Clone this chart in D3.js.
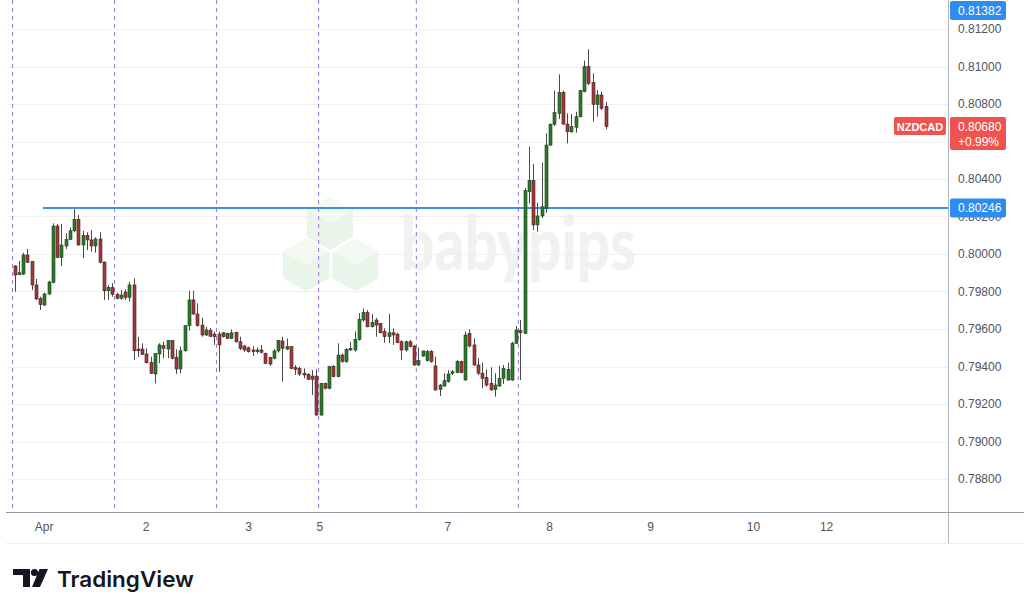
<!DOCTYPE html>
<html><head><meta charset="utf-8">
<script src="https://cdn.jsdelivr.net/npm/d3@7"></script>
<style>body{margin:0;background:#fff}svg{display:block}</style>
</head><body><svg id="c" width="1024" height="613"></svg>
<script>
// ---- data (NZDCAD, 1H candles) ----
const opens = [0.79936,0.79890,0.79893,0.79995,0.79959,0.79835,0.79762,0.79728,0.79787,0.79849,0.80149,0.79982,0.80043,0.80078,0.80124,0.80185,0.80048,0.80098,0.80075,0.80043,0.80080,0.79957,0.79804,0.79822,0.79785,0.79764,0.79797,0.79769,0.79835,0.79493,0.79493,0.79467,0.79422,0.79360,0.79467,0.79511,0.79493,0.79538,0.79449,0.79387,0.79484,0.79618,0.79755,0.79680,0.79621,0.79568,0.79591,0.79573,0.79573,0.79559,0.79577,0.79550,0.79582,0.79532,0.79509,0.79500,0.79488,0.79479,0.79488,0.79470,0.79449,0.79444,0.79483,0.79536,0.79493,0.79506,0.79394,0.79390,0.79364,0.79358,0.79349,0.79349,0.79141,0.79310,0.79284,0.79399,0.79346,0.79461,0.79426,0.79488,0.79488,0.79545,0.79648,0.79687,0.79612,0.79648,0.79630,0.79586,0.79559,0.79580,0.79573,0.79532,0.79488,0.79532,0.79509,0.79408,0.79456,0.79431,0.79479,0.79403,0.79278,0.79296,0.79319,0.79364,0.79367,0.79426,0.79328,0.79577,0.79515,0.79408,0.79364,0.79342,0.79310,0.79278,0.79296,0.79337,0.79328,0.79328,0.79524,0.79591,0.79577,0.80332,0.80391,0.80155,0.80203,0.80244,0.80581,0.80692,0.80750,0.80862,0.80693,0.80652,0.80676,0.80732,0.80866,0.80999,0.80914,0.80798,0.80848,0.80786];
const highs = [0.79941,0.79963,0.80007,0.80027,0.79962,0.79867,0.79772,0.79794,0.79858,0.80164,0.80160,0.80160,0.80110,0.80142,0.80238,0.80208,0.80123,0.80116,0.80128,0.80089,0.80116,0.79960,0.79835,0.79844,0.79794,0.79808,0.79812,0.79852,0.79870,0.79559,0.79524,0.79497,0.79452,0.79470,0.79524,0.79532,0.79541,0.79541,0.79492,0.79506,0.79621,0.79804,0.79804,0.79737,0.79660,0.79612,0.79605,0.79586,0.79586,0.79584,0.79580,0.79598,0.79586,0.79559,0.79515,0.79506,0.79509,0.79502,0.79515,0.79474,0.79452,0.79492,0.79541,0.79559,0.79550,0.79509,0.79408,0.79399,0.79390,0.79364,0.79381,0.79385,0.79312,0.79314,0.79403,0.79408,0.79524,0.79470,0.79497,0.79532,0.79588,0.79685,0.79710,0.79701,0.79680,0.79659,0.79632,0.79604,0.79680,0.79604,0.79580,0.79541,0.79538,0.79541,0.79515,0.79502,0.79484,0.79488,0.79488,0.79452,0.79307,0.79364,0.79381,0.79381,0.79435,0.79431,0.79586,0.79598,0.79550,0.79444,0.79420,0.79385,0.79396,0.79364,0.79403,0.79408,0.79420,0.79532,0.79616,0.79648,0.80352,0.80572,0.80480,0.80274,0.80487,0.80644,0.80697,0.80871,0.80958,0.80871,0.80750,0.80747,0.80759,0.80875,0.81031,0.81092,0.80964,0.80875,0.80866,0.80812];
const lows = [0.79799,0.79888,0.79888,0.79952,0.79808,0.79755,0.79701,0.79723,0.79781,0.79844,0.79977,0.79936,0.80027,0.80075,0.80116,0.80044,0.79977,0.80021,0.80012,0.80007,0.79950,0.79755,0.79755,0.79772,0.79758,0.79755,0.79755,0.79746,0.79435,0.79452,0.79461,0.79417,0.79360,0.79310,0.79417,0.79444,0.79444,0.79438,0.79360,0.79364,0.79479,0.79591,0.79675,0.79612,0.79559,0.79563,0.79559,0.79515,0.79372,0.79554,0.79547,0.79547,0.79527,0.79488,0.79479,0.79474,0.79456,0.79470,0.79470,0.79413,0.79404,0.79438,0.79474,0.79319,0.79488,0.79385,0.79355,0.79349,0.79337,0.79328,0.79248,0.79138,0.79138,0.79278,0.79278,0.79342,0.79342,0.79420,0.79420,0.79483,0.79479,0.79538,0.79639,0.79609,0.79609,0.79559,0.79577,0.79527,0.79524,0.79515,0.79524,0.79435,0.79479,0.79502,0.79403,0.79403,0.79452,0.79426,0.79420,0.79271,0.79243,0.79292,0.79314,0.79355,0.79364,0.79364,0.79324,0.79502,0.79403,0.79355,0.79284,0.79292,0.79271,0.79239,0.79292,0.79307,0.79324,0.79324,0.79520,0.79328,0.79573,0.80270,0.80128,0.80119,0.80192,0.80220,0.80576,0.80683,0.80720,0.80688,0.80590,0.80647,0.80647,0.80729,0.80862,0.80901,0.80706,0.80732,0.80768,0.80665];
const closes = [0.79888,0.79900,0.79995,0.79956,0.79835,0.79760,0.79730,0.79787,0.79851,0.80149,0.79982,0.80048,0.80078,0.80124,0.80185,0.80048,0.80098,0.80075,0.80043,0.80080,0.79956,0.79804,0.79822,0.79785,0.79764,0.79781,0.79769,0.79835,0.79484,0.79484,0.79465,0.79420,0.79364,0.79470,0.79515,0.79497,0.79538,0.79444,0.79387,0.79484,0.79618,0.79755,0.79680,0.79618,0.79568,0.79595,0.79561,0.79559,0.79515,0.79580,0.79550,0.79580,0.79532,0.79497,0.79488,0.79479,0.79479,0.79488,0.79476,0.79417,0.79413,0.79483,0.79538,0.79497,0.79506,0.79390,0.79385,0.79360,0.79355,0.79332,0.79332,0.79141,0.79310,0.79284,0.79399,0.79346,0.79461,0.79426,0.79492,0.79497,0.79545,0.79652,0.79687,0.79612,0.79634,0.79621,0.79580,0.79559,0.79580,0.79568,0.79527,0.79488,0.79532,0.79506,0.79408,0.79431,0.79483,0.79479,0.79426,0.79275,0.79301,0.79324,0.79360,0.79372,0.79426,0.79367,0.79568,0.79509,0.79408,0.79364,0.79337,0.79301,0.79275,0.79301,0.79337,0.79390,0.79385,0.79524,0.79595,0.79580,0.80338,0.80391,0.80155,0.80203,0.80252,0.80581,0.80692,0.80754,0.80862,0.80693,0.80652,0.80679,0.80732,0.80871,0.80999,0.80910,0.80798,0.80848,0.80777,0.80680];
const sessionBreaks = [-0.5, 23.5, 47.5, 71.5, 94.5, 118.5];
const xTickPos = [6.8, 30.8, 54.9, 71.7, 101.8, 125.7, 149.5, 173.7, 190.9];
const xTickLabels = ["Apr", "2", "3", "5", "7", "8", "9", "10", "12"];
const gridTicks = [0.788, 0.790, 0.792, 0.794, 0.796, 0.798, 0.800, 0.802, 0.804, 0.806, 0.808, 0.810, 0.812];
// labels that remain visible (0.80600 sits under the last-price tag)
const yTickLabels = [0.788, 0.790, 0.792, 0.794, 0.796, 0.798, 0.800, 0.802, 0.804, 0.808, 0.810, 0.812];
const hlinePrice = 0.80246;
const lastPrice = 0.80680;
const changeText = "+0.99%";
const topPrice = 0.81382;
const symbol = "NZDCAD";

// ---- layout ----
const W = 1024, plotRight = 948, plotBottom = 512, axisBottom = 543, plotLeft = 6;
const svg = d3.select("#c");
const x = d3.scaleLinear().domain([0, opens.length - 1]).range([14.7, 605.5]);
const y = d3.scaleLinear().domain([0.788, 0.812]).range([479, 29]);
const font = "'Liberation Sans', Arial, sans-serif";

svg.append("rect").attr("width", W).attr("height", 613).attr("fill", "#fff");

// grid
svg.append("g").selectAll("line").data(gridTicks).join("line")
  .attr("x1", plotLeft).attr("x2", plotRight)
  .attr("y1", d => Math.round(y(d)) + 0.5).attr("y2", d => Math.round(y(d)) + 0.5)
  .attr("stroke", "#eef0f4").attr("stroke-width", 1);

// watermark: hex logo
const hexR = 26.5;
function hexPath(cx, cy, r) {
  const pts = d3.range(6).map(k => {
    const a = Math.PI / 180 * (60 * k - 90);
    return [cx + r * Math.cos(a), cy + r * Math.sin(a)];
  });
  return "M" + pts.map(p => p.join(",")).join("L") + "Z";
}
function topFace(cx, cy, r) {
  const w = r * Math.sqrt(3) / 2;
  return `M${cx},${cy - r}L${cx + w},${cy - r / 2}L${cx},${cy}L${cx - w},${cy - r / 2}Z`;
}
const wm = svg.append("g").attr("opacity", 0.85);
[[330, 223.5], [306, 265], [355.5, 265]].forEach(([cx, cy]) => {
  wm.append("path").attr("d", hexPath(cx, cy, hexR)).attr("fill", "#e6f4e6");
  wm.append("path").attr("d", topFace(cx, cy, hexR)).attr("fill", "#eff9ef");
});
wm.append("text").attr("x", 401).attr("y", 270).attr("font-family", "Lato, 'Open Sans', sans-serif")
  .attr("font-weight", 900).attr("font-size", 74).attr("fill", "#efefef")
  .attr("textLength", 235).attr("lengthAdjust", "spacingAndGlyphs").text("babypips");

// session separators
svg.append("g").selectAll("line").data(sessionBreaks).join("line")
  .attr("x1", d => x(d)).attr("x2", d => x(d)).attr("y1", 0).attr("y2", plotBottom)
  .attr("stroke", "#9c6fe8").attr("stroke-width", 1).attr("stroke-dasharray", "4,4");

// horizontal ray
svg.append("line").attr("x1", 43).attr("x2", plotRight)
  .attr("y1", y(hlinePrice)).attr("y2", y(hlinePrice))
  .attr("stroke", "#3d8ee8").attr("stroke-width", 2);

// candles
const idx = d3.range(opens.length);
const cg = svg.append("g");
cg.selectAll("line").data(idx).join("line")
  .attr("x1", i => Math.round(x(i)) + 0.5).attr("x2", i => Math.round(x(i)) + 0.5)
  .attr("y1", i => y(highs[i])).attr("y2", i => y(lows[i]))
  .attr("stroke", "#4a4a4a").attr("stroke-width", 1);
cg.selectAll("rect").data(idx).join("rect")
  .attr("x", i => Math.round(x(i)) - 1)
  .attr("width", 3)
  .attr("y", i => y(Math.max(opens[i], closes[i])))
  .attr("height", i => Math.max(1, Math.abs(y(opens[i]) - y(closes[i]))))
  .attr("fill", i => closes[i] >= opens[i] ? "#2a7a2a" : "#9e3a3a")
  .attr("stroke", i => closes[i] >= opens[i] ? "#1c3f1c" : "#4a1f1f")
  .attr("stroke-width", 0.6);

// axes frame
svg.append("line").attr("x1", plotRight + 0.5).attr("x2", plotRight + 0.5).attr("y1", 0).attr("y2", axisBottom)
  .attr("stroke", "#b2b5be");
svg.append("line").attr("x1", plotLeft).attr("x2", W).attr("y1", plotBottom + 0.5).attr("y2", plotBottom + 0.5)
  .attr("stroke", "#9598a1");
svg.append("line").attr("x1", plotLeft).attr("x2", W).attr("y1", axisBottom + 0.5).attr("y2", axisBottom + 0.5)
  .attr("stroke", "#eceef2");

// y axis labels
const yAxis = d3.axisRight(y).tickValues(yTickLabels).tickFormat(d3.format(".5f")).tickSize(0).tickPadding(10);
const ya = svg.append("g").attr("transform", `translate(${plotRight},0)`).call(yAxis);
ya.select(".domain").remove();
ya.selectAll("text").attr("font-family", font).attr("font-size", 12).attr("fill", "#50535e");

// x axis labels
const xAxis = d3.axisBottom(x).tickValues(xTickPos).tickFormat((d, i) => xTickLabels[i]).tickSize(0).tickPadding(10);
const xa = svg.append("g").attr("transform", `translate(0,${plotBottom})`).call(xAxis);
xa.select(".domain").remove();
xa.selectAll("text").attr("font-family", font).attr("font-size", 12).attr("fill", "#50535e");

// price labels
function priceBox(yc, h, color, lines) {
  const g = svg.append("g");
  g.append("rect").attr("x", 950).attr("y", yc - 9.5).attr("width", 56).attr("height", h)
    .attr("rx", 2).attr("fill", color);
  lines.forEach((t, k) => g.append("text").attr("x", 958).attr("y", yc + 4.5 + k * 15)
    .attr("font-family", font).attr("font-size", 12).attr("fill", "#fff").text(t));
}
priceBox(Math.max(y(topPrice), 10.5), 19, "#2d8cf0", [d3.format(".5f")(topPrice)]);
priceBox(y(hlinePrice), 19, "#2d8cf0", [d3.format(".5f")(hlinePrice)]);
priceBox(y(lastPrice), 33, "#ef5350", [d3.format(".5f")(lastPrice), changeText]);
svg.append("rect").attr("x", 894).attr("y", y(lastPrice) - 9.5).attr("width", 52).attr("height", 18)
  .attr("rx", 2).attr("fill", "#ef5350");
svg.append("text").attr("x", 920).attr("y", y(lastPrice) + 4.5).attr("text-anchor", "middle")
  .attr("font-family", font).attr("font-size", 11).attr("font-weight", 700).attr("fill", "#fff").text(symbol);

// TradingView logo
const lg = svg.append("g").attr("fill", "#131722");
lg.append("path").attr("d", "M13,569H30V587H23V575H13Z");
lg.append("circle").attr("cx", 34.5).attr("cy", 572.5).attr("r", 3.6);
lg.append("path").attr("d", "M39.5,569H48L40,587H32Z");
lg.append("text").attr("x", 57).attr("y", 587).attr("font-family", "Inter, 'Open Sans', sans-serif")
  .attr("font-weight", 600).attr("font-size", 22).attr("textLength", 137).attr("lengthAdjust", "spacingAndGlyphs")
  .text("TradingView");
</script></body></html>
